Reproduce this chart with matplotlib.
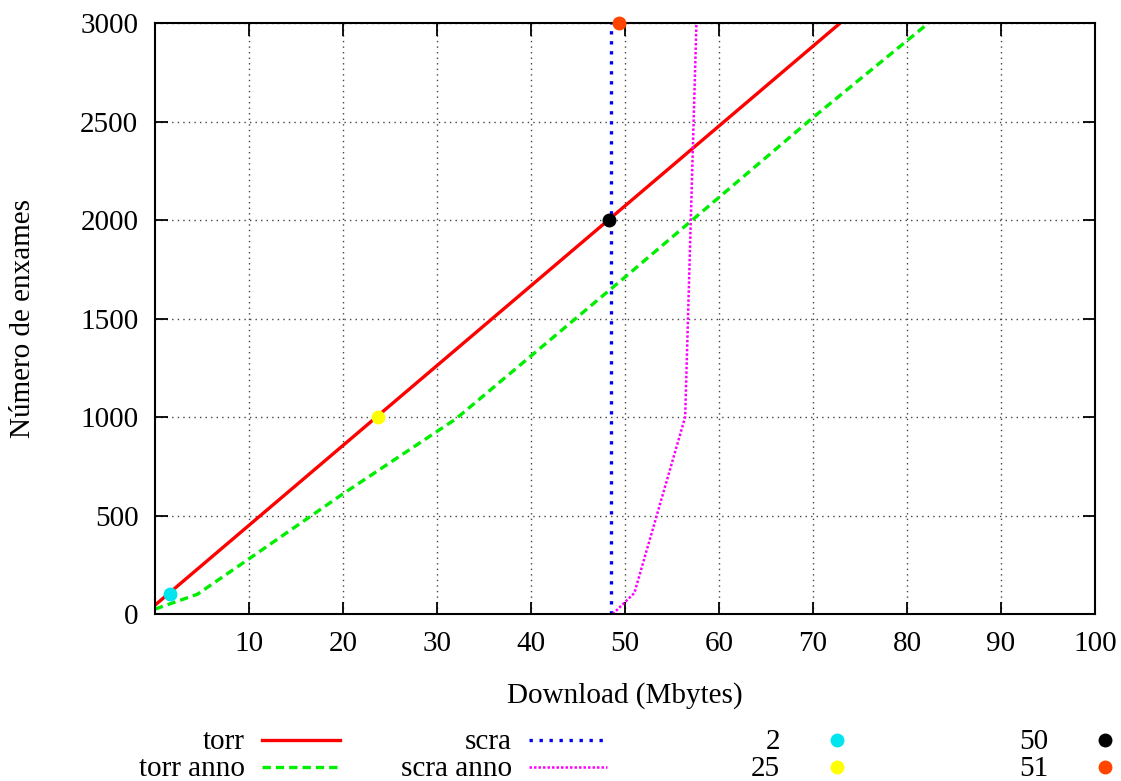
import matplotlib.pyplot as plt
from matplotlib.lines import Line2D

plt.rcParams['font.family'] = ['Liberation Serif', 'DejaVu Serif']
plt.rcParams['font.size'] = 21

# download volume (Mbytes) vs number of swarms
torr_x = [0.0, 72.9]
torr_y = [45, 3000]
torr_anno_x = [0.0, 4.5, 10, 20, 32, 40, 50, 60, 70, 82.3]
torr_anno_y = [25, 100, 280, 610, 990, 1310, 1710, 2115, 2520, 3000]
scra_x = [48.5, 48.5]
scra_y = [0, 3000]
scra_anno_x = [48.7, 51.0, 56.4, 57.6]
scra_anno_y = [0, 107, 1000, 3000]

# single marked points
pt_labels = ['2', '25', '50', '51']
pt_x = [1.6, 23.7, 48.3, 49.4]
pt_y = [100, 1000, 2000, 3000]
pt_colors = ['#00e5ee', '#ffff00', '#000000', '#ff4500']

W, H = 1121, 781
fig = plt.figure(figsize=(W / 100, H / 100), dpi=100)
ax = fig.add_axes([155 / W, 1 - 614 / H, (1095 - 155) / W, (614 - 23) / H])

ax.plot(torr_x, torr_y, color='red', lw=2.4, solid_capstyle='butt')
ax.plot(torr_anno_x, torr_anno_y, color='#00ee00', lw=2.4,
        linestyle=(0, (2.5, 1.5)))
ax.plot(scra_x, scra_y, color='#0000ee', lw=2.4, linestyle=(0, (1, 2)))
ax.plot(scra_anno_x, scra_anno_y, color='#ff00ff', lw=1.8,
        linestyle=(0, (1, 0.8)))
for x, y, c in zip(pt_x, pt_y, pt_colors):
    ax.plot([x], [y], 'o', color=c, markersize=9, clip_on=False, zorder=5)

ax.set_xlim(0, 100)
ax.set_ylim(0, 3000)
ax.set_xticks(range(10, 101, 10))
ax.set_yticks(range(0, 3001, 500))
ax.tick_params(direction='in', length=9, width=1.3, top=True, right=True,
               pad=12)
for s in ax.spines.values():
    s.set_linewidth(1.5)
ax.grid(True, color='#444444', lw=1, linestyle=(0, (1, 3)))
ax.set_xlabel('Download (Mbytes)', labelpad=18)
ax.set_ylabel('Número de enxames', labelpad=32)


def fx(px):
    return px / W


def fy(py):
    return 1 - py / H


# key below the plot, gnuplot style: text then sample
line_keys = [
    ('torr', 245, 742, dict(color='red', lw=2.4)),
    ('torr anno', 245, 769, dict(color='#00ee00', lw=2.4,
                                 linestyle=(0, (2.5, 1.5)))),
    ('scra', 512, 742, dict(color='#0000ee', lw=2.4, linestyle=(0, (1, 2)))),
    ('scra anno', 512, 769, dict(color='#ff00ff', lw=1.8,
                                 linestyle=(0, (1, 0.8)))),
]
for label, tx, ty, style in line_keys:
    fig.text(fx(tx), fy(ty), label, ha='right', va='center')
    fig.add_artist(Line2D([fx(tx + 17), fx(tx + 95)], [fy(ty - 2), fy(ty - 2)],
                          transform=fig.transFigure, **style))

pt_pos = [(780, 742), (780, 769), (1048, 742), (1048, 769)]
for label, c, (tx, ty) in zip(pt_labels, pt_colors, pt_pos):
    fig.text(fx(tx), fy(ty), label, ha='right', va='center')
    fig.add_artist(Line2D([fx(tx + 57)], [fy(ty - 2)], marker='o', color=c,
                          markersize=9, transform=fig.transFigure))

fig.savefig('out.png', dpi=100)
